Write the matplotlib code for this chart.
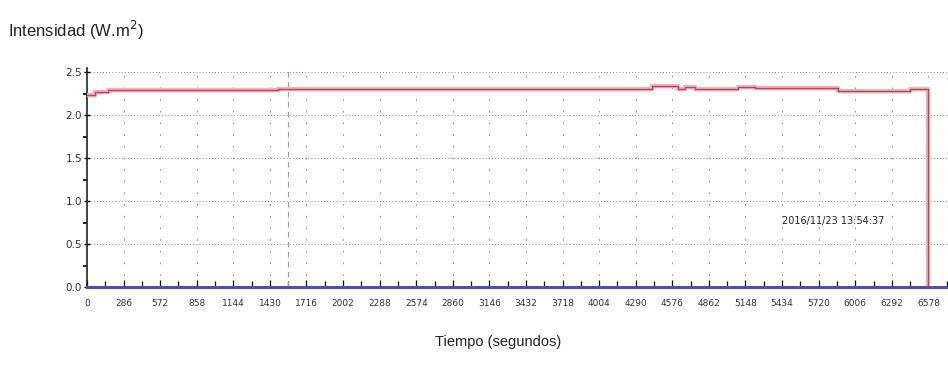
import numpy as np
import matplotlib
matplotlib.use("Agg")
import matplotlib.pyplot as plt
from matplotlib import ticker

# ---------------------------------------------------------------------------
# Data
# ---------------------------------------------------------------------------
time_s = [0, 62, 164, 1493, 4415, 4618, 4673, 4751, 5087, 5220, 5868, 6431, 6572, 6572]
intensity = [2.24, 2.27, 2.29, 2.31, 2.34, 2.31, 2.33, 2.31, 2.33, 2.32, 2.28, 2.31, 2.31, 0.0]

base_time = [0, 6950]
base_value = [0.0, 0.0]

cursor_time = 1571
stamp_text = "2016/11/23 13:54:37"
stamp_pos = (5830, 0.77)

xticks = np.arange(0, 6864 + 1, 286)
yticks = [0.0, 0.5, 1.0, 1.5, 2.0, 2.5]

NARROW = ["DejaVu Sans Condensed", "Liberation Sans Narrow", "DejaVu Sans"]
SANS = ["Liberation Sans", "DejaVu Sans"]

fig = plt.figure(figsize=(9.48, 3.71), dpi=100)
ax = fig.add_axes([87 / 948, 84 / 371, 889 / 948, 219 / 371])

# grid
for yv in yticks[1:]:
    ax.axhline(yv, color="#888888", lw=0.7, ls=(0, (1, 2.2)), zorder=1)
for xv in xticks[1:]:
    ax.axvline(xv, color="#999999", lw=0.8, ls=(0, (1.5, 9)), zorder=1)

# series
ax.plot(time_s, intensity, drawstyle="steps-post", color="#f0b4bc", lw=3.2, zorder=3)
ax.plot(time_s, intensity, drawstyle="steps-post", color="#c04452", lw=1.0, zorder=4)
ax.plot(base_time, base_value, color="#50509c", lw=2.2, zorder=5, clip_on=False)

# cursor
ax.axvline(cursor_time, color="#e58090", lw=0.8, ls=(0, (5, 4)), zorder=2)

ax.text(stamp_pos[0], stamp_pos[1], stamp_text, ha="center", va="center",
        fontsize=7, family=NARROW, color="#222222")

ax.set_xlim(0, 6950)
ax.set_ylim(0, 2.55)

ax.set_xticks(xticks)
ax.set_xticklabels([str(v) for v in xticks], family=NARROW, fontsize=6.5, color="#333333")
ax.xaxis.set_minor_locator(ticker.MultipleLocator(143))
ax.set_yticks(yticks)
ax.set_yticklabels([f"{v:.1f}" for v in yticks], family=NARROW, fontsize=7.5, color="#333333")
ax.yaxis.set_minor_locator(ticker.MultipleLocator(0.25))

ax.tick_params(axis="x", which="major", direction="in", length=5, width=0.9, pad=9)
ax.tick_params(axis="x", which="minor", direction="in", length=4, width=0.9)
ax.tick_params(axis="y", which="major", direction="inout", length=5, width=1, pad=1)
ax.tick_params(axis="y", which="minor", direction="out", length=3, width=1.2)

for s in ["top", "right", "bottom"]:
    ax.spines[s].set_visible(False)
ax.spines["left"].set_linewidth(1.2)
ax.spines["left"].set_color("#222222")

fig.text(8 / 948, 1 - 30 / 371, "Intensidad (W.m$^2$)", fontsize=12,
         family=SANS, ha="left", va="center", color="#222222")
fig.text(498 / 948, 1 - 342 / 371, "Tiempo (segundos)", fontsize=10.5,
         family=SANS, ha="center", va="center", color="#222222")

fig.savefig("out.png", dpi=100)
